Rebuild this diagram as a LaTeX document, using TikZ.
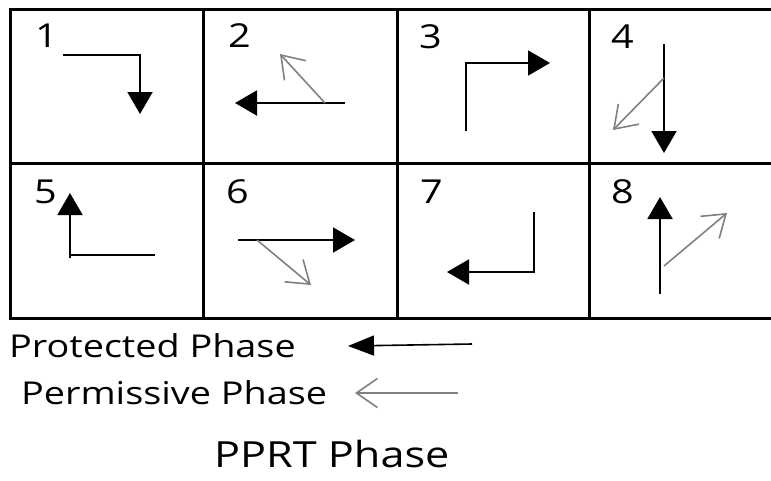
\documentclass[tikz,border=0pt]{standalone}
\usepackage{fontspec}
\setmainfont{Open Sans}[FakeStretch=1.2]
\usetikzlibrary{arrows.meta}
\usetikzlibrary{calc}

\tikzset{
    grid line/.style={line width=3pt},
    protected/.style={line width=2pt, -{Triangle[length=22pt,width=25pt]}},
    permissive/.style={line width=1.6pt, gray, -{Straight Barb[length=21pt,width=29pt,line width=1.6pt]}},
    label/.style={anchor=base west, inner sep=0pt, font=\fontsize{31.5}{36}\selectfont},
    number/.style={label, font=\fontsize{33}{38}\selectfont},
}

\begin{document}
\begin{tikzpicture}[x=1pt,y=-1pt]
    \useasboundingbox (0,0) rectangle (771,480);
    % table
    \foreach \y in {9,163,318}
        \draw [grid line] (8.5,\y) -- (790,\y);
    \foreach \x in {10,203,397,589}
        \draw [grid line] (\x,9) -- (\x,318);
    % phase numbers
    \foreach \n/\x/\y in {1/35/47,2/228/47,3/419/48,4/611/48,5/34/203,6/226/203,7/420/203,8/611/203}
        \node [number] (num\n) at (\x,\y) {\n};
    % 1
    { []
        \coordinate (a1) at (63,55);
        \coordinate (b1) at (140,55);
        \coordinate (c1) at (140,114);
        \draw [protected] (a1) -- (b1) -- (c1);
    }
    % 2
    { []
        \coordinate (a2) at (345,103);
        \coordinate (c2) at (235,103);
        \coordinate (g2) at (325,103);
        \coordinate (h2) at (280,54);
        \draw [protected] (a2) -- (c2);
        \draw [permissive] (g2) -- (h2);
    }
    % 3
    { []
        \coordinate (a3) at (466,131);
        \coordinate (b3) at (466,63);
        \coordinate (c3) at (550,63);
        \draw [protected] (a3) -- (b3) -- (c3);
    }
    % 4
    { []
        \coordinate (a4) at (664,44);
        \coordinate (c4) at (664,153);
        \coordinate (g4) at (664,78);
        \coordinate (h4) at (613,130);
        \draw [protected] (a4) -- (c4);
        \draw [permissive] (g4) -- (h4);
    }
    % 5
    { []
        \coordinate (a5) at (155,255);
        \coordinate (b5) at (70,255);
        \coordinate (c5) at (70,193);
        \draw [protected] (a5) -- (b5) -- (c5);
        \draw [line width=2pt] (b5) -- ++(0,3);
    }
    % 6
    { []
        \coordinate (a6) at (238,240);
        \coordinate (c6) at (355,240);
        \coordinate (g6) at (257,240);
        \coordinate (h6) at (311,285);
        \draw [protected] (a6) -- (c6);
        \draw [permissive] (g6) -- (h6);
    }
    % 7
    { []
        \coordinate (a7) at (534,212);
        \coordinate (b7) at (534,272);
        \coordinate (c7) at (447,272);
        \draw [protected] (a7) -- (b7) -- (c7);
    }
    % 8
    { []
        \coordinate (a8) at (660,294);
        \coordinate (c8) at (660,197);
        \coordinate (g8) at (664,266);
        \coordinate (h8) at (727,213);
        \draw [protected] (a8) -- (c8);
        \draw [permissive] (g8) -- (h8);
    }
    % legend
    \node [label] (prot) at (9,357) {Protected Phase};
    \node [label] (perm) at (21,404) {Permissive Phase};
    \node [label, font=\fontsize{36}{42}\selectfont] (pprt) at (214,467) {PPRT Phase};
    \coordinate (pa) at (472,344);
    \coordinate (pb) at (348,346);
    \coordinate (qa) at (458,393);
    \coordinate (qb) at (355,393);
    \draw [protected, line width=1.6pt, -{Triangle[length=26pt,width=20pt]}] (pa) -- (pb);
    \draw [permissive] (qa) -- (qb);
\end{tikzpicture}
\end{document}
